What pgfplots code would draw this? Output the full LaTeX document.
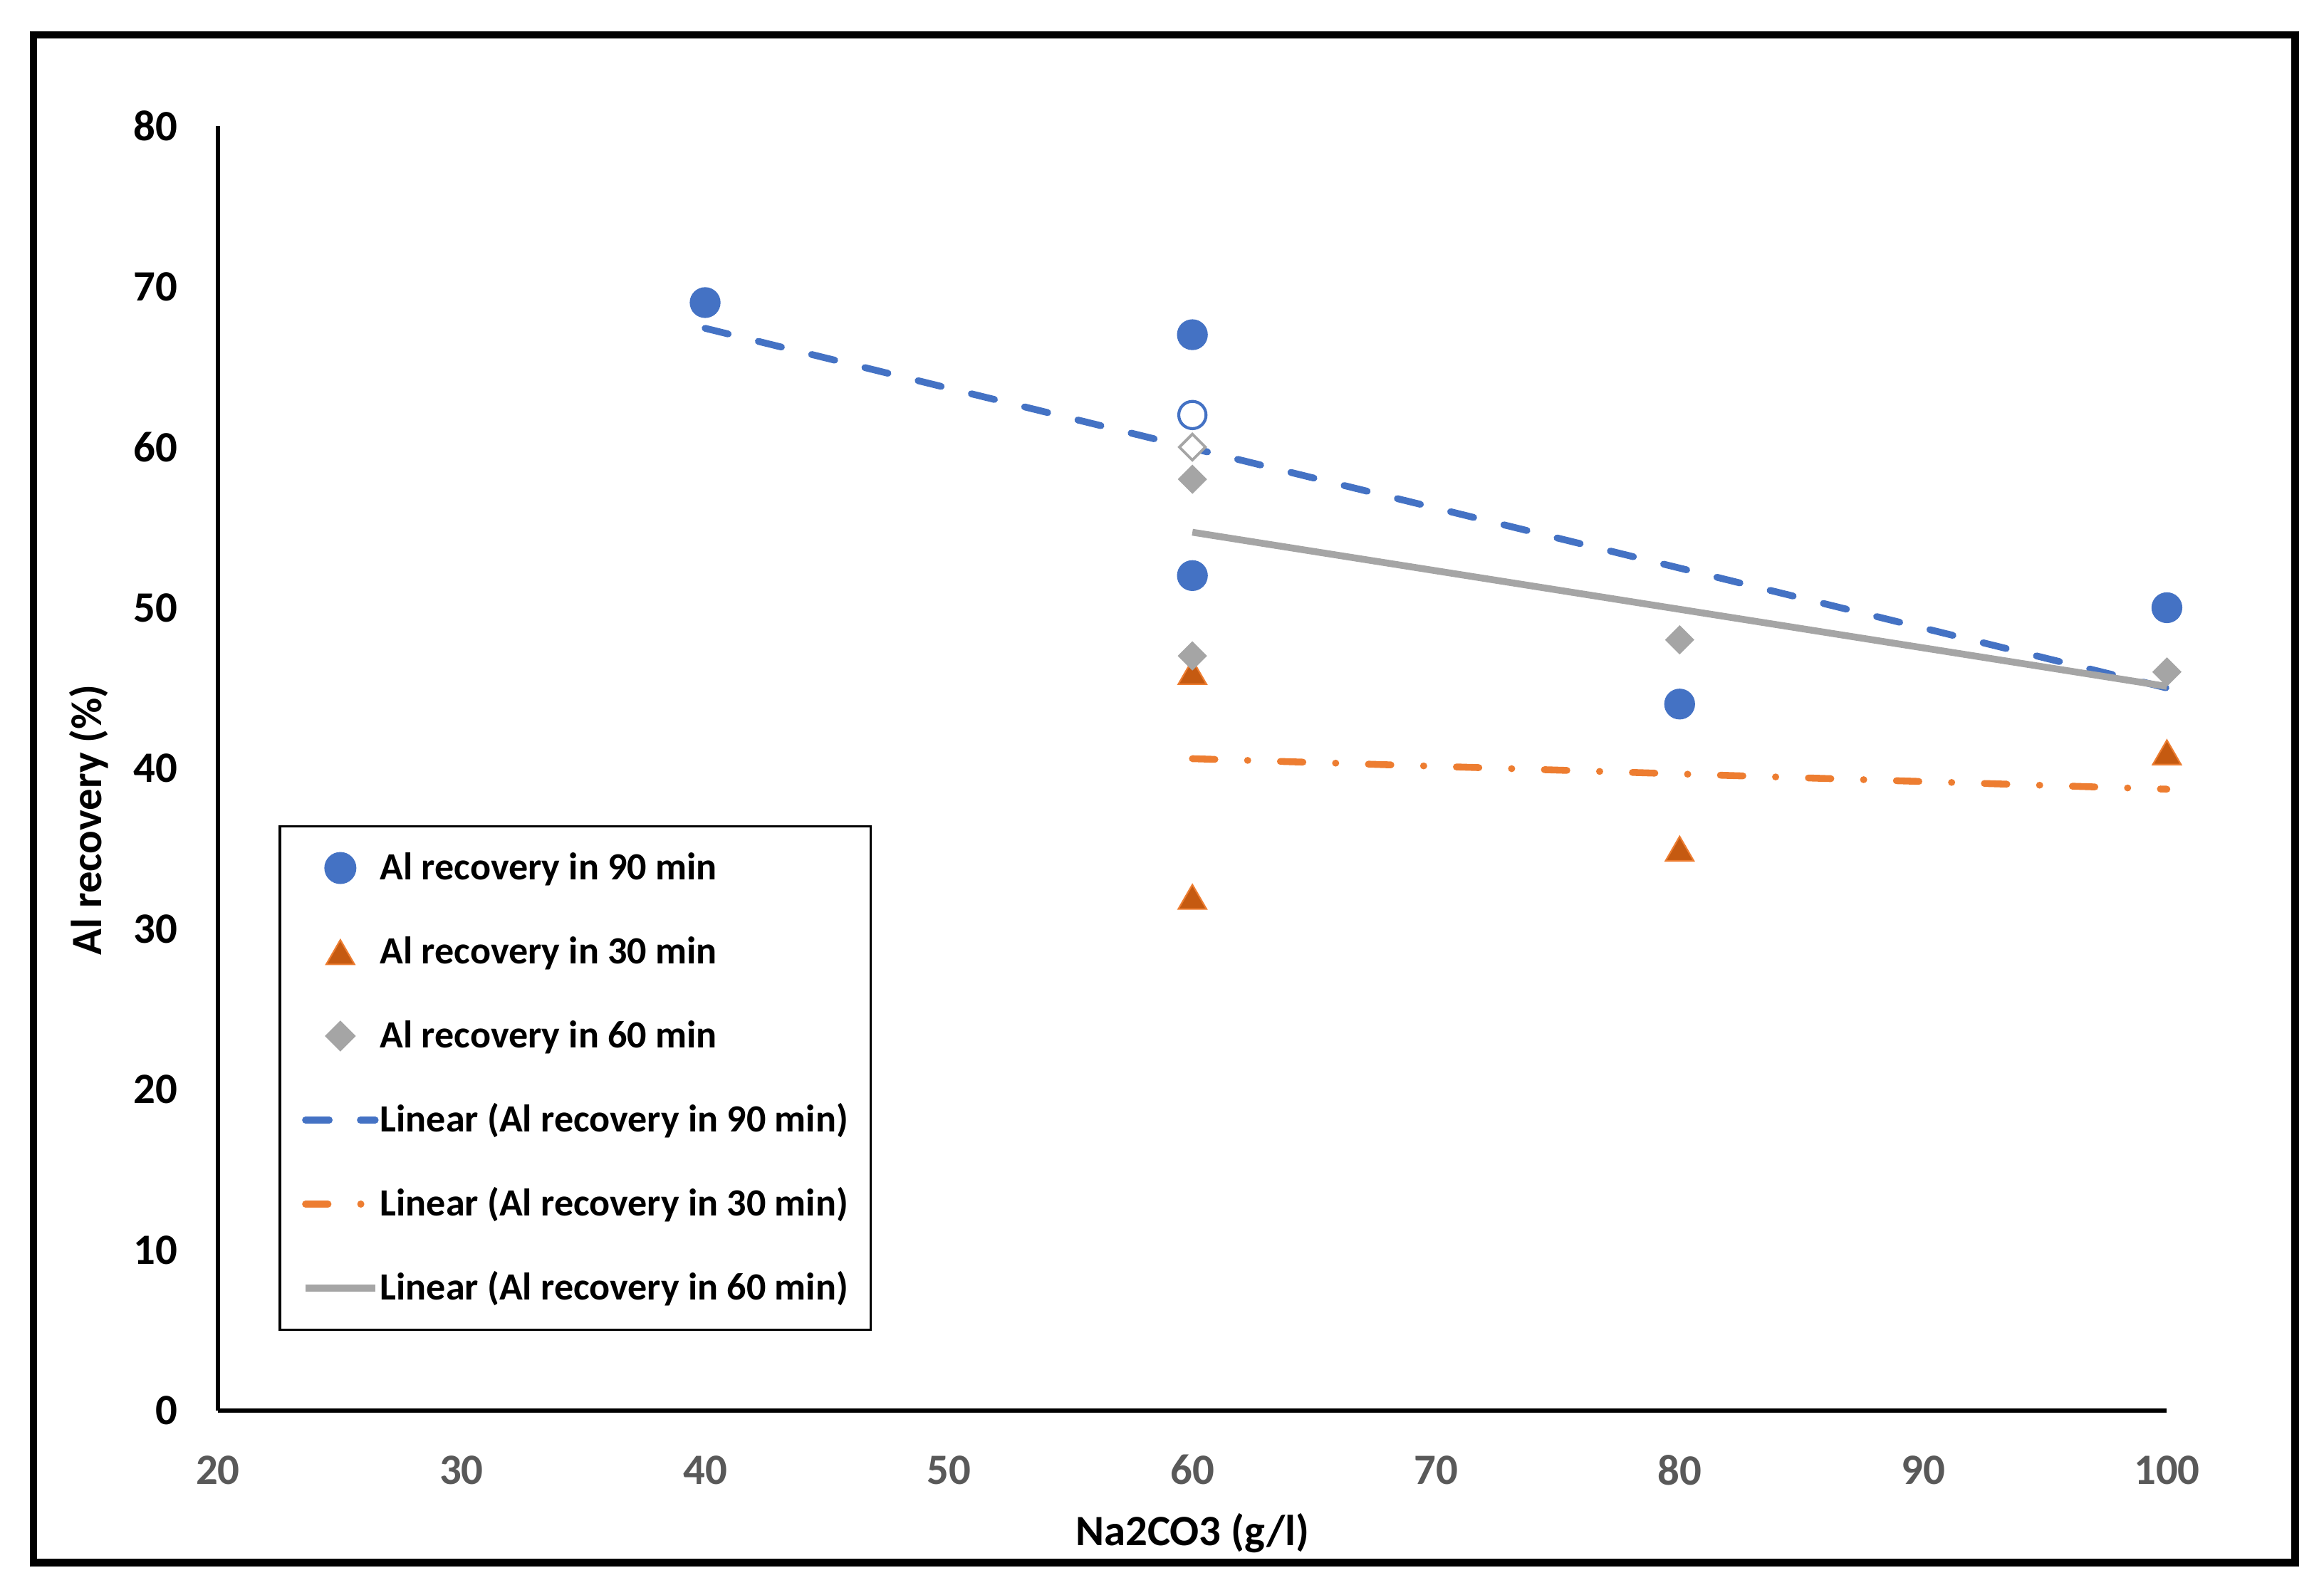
\documentclass[border=0pt]{standalone}
\usepackage{pgfplots}
\pgfplotsset{compat=1.18}
\usepackage{fontspec}
\setmainfont{Carlito}
\definecolor{cblue}{HTML}{4472C4}
\definecolor{corange}{HTML}{ED7D31}
\definecolor{cdorange}{HTML}{C55A11}
\definecolor{cgray}{HTML}{A5A5A5}
\definecolor{ctick}{HTML}{595959}
\begin{document}
\begin{tikzpicture}
\path[use as bounding box] (0pt,0pt) rectangle (784pt,538pt);
\draw[line width=2.5pt] (11.25pt,10.75pt) rectangle (774.25pt,526.25pt);
\begin{axis}[
  at={(73.5pt,62pt)}, anchor=south west,
  scale only axis, width=657.5pt, height=433.5pt,
  xmin=20, xmax=100, ymin=0, ymax=80,
  xtick={20,30,...,100}, ytick={0,10,...,80},
  axis lines=left, axis line style={-, line width=1.3pt},
  major tick length=0pt,
  clip=false,
  /pgf/number format/assume math mode=true,
  ticklabel style={font=\fontsize{14.6}{17}\selectfont\bfseries},
  yticklabel style={inner sep=0pt, anchor=east, xshift=-13.5pt},
  xticklabel style={inner sep=0pt, anchor=center, yshift=-20pt, text=ctick},
  xlabel={Na2CO3 (g/l)}, ylabel={Al recovery (\%)},
  label style={font=\fontsize{14.6}{17}\selectfont\bfseries},
  xlabel style={at={(axis description cs:0.5,-0.0955)}, anchor=center},
  ylabel style={at={(axis description cs:-0.0662,0.460)}, anchor=center, rotate=0},
  legend style={at={(0.0312,0.4556)}, anchor=north west, draw=black, line width=0.8pt,
    font=\fontsize{13}{15}\selectfont\bfseries, row sep=16.35pt, column sep=0.5pt,
    inner xsep=7.5pt, inner ysep=8pt,
    nodes={inner sep=0pt, text height=10pt, text depth=2pt}},
  legend cell align=left,
  legend image code/.code={\draw[mark repeat=2,mark phase=2,#1] plot coordinates {(0pt,0pt) (11.75pt,0pt) (23.5pt,0pt)};},
]
% scatter series
\addplot[only marks, mark=*, mark size=5pt, color=cblue, mark options={fill=cblue, draw=cblue}]
  coordinates {(40,69) (60,67) (60,52) (80,44) (100,50)};
\addlegendentry{Al recovery in 90 min}
\addplot[only marks, mark=triangle*, mark size=5.5pt, color=cdorange, mark options={yshift=-1.4pt, fill=cdorange, draw=corange, line width=0.5pt}]
  coordinates {(60,46) (60,32) (80,35) (100,41)};
\addlegendentry{Al recovery in 30 min}
\addplot[only marks, mark=square*, mark size=3.3pt, color=cgray, mark options={rotate=45, fill=cgray, draw=cgray}]
  coordinates {(60,58) (60,47) (80,48) (100,46)};
\addlegendentry{Al recovery in 60 min}
% hollow points
\addplot[forget plot, only marks, mark=*, mark size=4.6pt, mark options={fill=white, draw=cblue, line width=1pt}]
  coordinates {(60,62)};
\addplot[forget plot, only marks, mark=square*, mark size=3.1pt, mark options={rotate=45, fill=white, draw=cgray, line width=0.9pt}]
  coordinates {(60,60)};
% trendlines
\addplot[color=cblue, line width=2.3pt, line cap=round, dash pattern=on 8pt off 10.5pt]
  coordinates {(40,67.4) (100,45.0)};
\addlegendentry{Linear (Al recovery in 90 min)}
\addplot[color=corange, line width=2.3pt, line cap=round, dash pattern=on 7.6pt off 11pt on 0.1pt off 11pt]
  coordinates {(60,40.6) (100,38.7)};
\addlegendentry{Linear (Al recovery in 30 min)}
\addplot[color=cgray, line width=2.3pt]
  coordinates {(60,54.7) (100,45.1)};
\addlegendentry{Linear (Al recovery in 60 min)}
\end{axis}
\end{tikzpicture}
\end{document}
